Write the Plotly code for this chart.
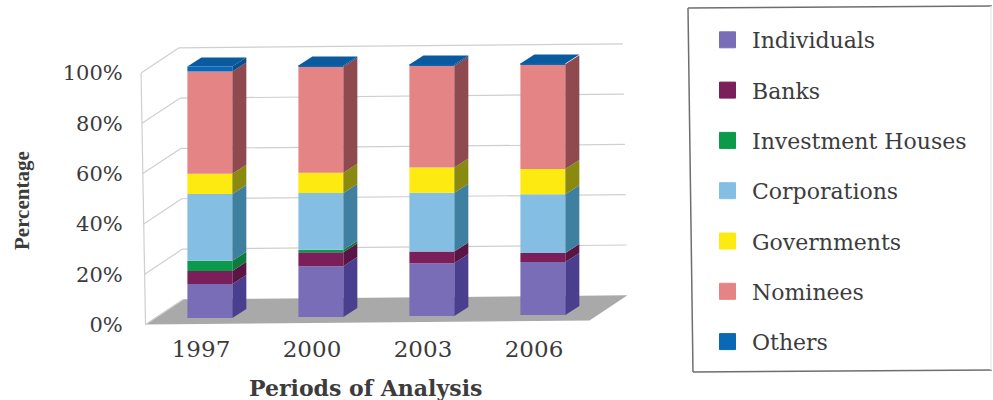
import plotly.graph_objects as go

# Ownership shares by year, in percent
years = ["1997", "2000", "2003", "2006"]
individuals = [13.5, 20.2, 21.0, 21.0]
banks = [5.2, 5.5, 4.6, 3.6]
investment_houses = [4.0, 1.0, 0.0, 0.0]
corporations = [26.6, 22.6, 23.4, 23.4]
governments = [8.0, 8.0, 10.0, 10.0]
nominees = [40.7, 42.2, 40.5, 41.7]
others = [2.0, 0.5, 0.5, 0.3]

series_names = ["Individuals", "Banks", "Investment Houses", "Corporations",
                "Governments", "Nominees", "Others"]
series_values = [individuals, banks, investment_houses, corporations,
                 governments, nominees, others]
front_colors = ["#7A6DB8", "#7B1F5B", "#0A9A4A", "#84BFE3", "#FDEA10", "#E58484", "#0A68B5"]
side_colors = ["#4A3F8F", "#5A1545", "#0E7A3C", "#3F7FA0", "#8A8A10", "#8F4A50", "#0A4F8C"]
top_color = "#0A5AA0"

FONT = "DejaVu Serif"
TITLE_FONT = "Liberation Serif"
TEXT = "#3C3C3C"

# Plot frame in pixels and the resulting axis ranges
W, H = 993, 400
LEFT, RIGHT, TOP, BOTTOM = 134, 640, 30, 326
X_RANGE = [-0.6036, 3.955]
Y_RANGE = [-0.6, 117.1]

# Oblique projection constants, in axis units
TILT = 0.4          # percent of rise per category step
WALL_DX, WALL_DY = 0.342, 10.0
WALL_LEAN = 0.04    # leftward lean of the walls at 100%
BAR_OFFSET = 0.08
BAR_WIDTH = 0.405
BAR_FLOOR = 2.6
BAR_DX, BAR_DY = 0.126, 3.6


def wall(x, depth, pct):
    """Point on the floor/wall box at slot position x, depth 0..1, height pct."""
    return (x + depth * WALL_DX - WALL_LEAN * pct / 100,
            pct + TILT * (x + 0.5) + depth * WALL_DY)


def line_shape(p, q, color="#CFCFCF"):
    return dict(type="line", xref="x", yref="y", layer="below",
                x0=p[0], y0=p[1], x1=q[0], y1=q[1],
                line=dict(color=color, width=1.2))


shapes = []
# Floor slab
corners = [wall(-0.5, 0, 0), wall(3.5, 0, 0), wall(3.5, 1, 0), wall(-0.5, 1, 0)]
path = "M " + " L ".join(f"{x},{y}" for x, y in corners) + " Z"
shapes.append(dict(type="path", xref="x", yref="y", layer="below", path=path,
                   fillcolor="#A9A9A9", line=dict(width=0)))
# Gridlines: side wall diagonals and back wall horizontals
for pct in [0, 20, 40, 60, 80, 100]:
    shapes.append(line_shape(wall(-0.5, 0, pct), wall(-0.5, 1, pct)))
    if pct > 0:
        shapes.append(line_shape(wall(-0.5, 1, pct), wall(3.5, 1, pct)))
shapes.append(line_shape(wall(-0.5, 0, 0), wall(-0.5, 0, 100)))


def px(x):
    return (x - LEFT) / (RIGHT - LEFT)


def py(y):
    return (BOTTOM - y) / (BOTTOM - TOP)


# Legend frame: three firm edges and a faint right edge
frame_edges = [((688, 8), (992, 6), "#6E6E6E"), ((688, 8), (693, 372), "#6E6E6E"),
               ((693, 372), (992, 370), "#6E6E6E"), ((991, 6), (991, 370), "#EDEDED")]
for (x0, y0), (x1, y1), edge in frame_edges:
    shapes.append(dict(type="line", xref="paper", yref="paper",
                       x0=px(x0), y0=py(y0), x1=px(x1), y1=py(y1),
                       line=dict(color=edge, width=1.5)))

fig = go.Figure()

# Stack bases per year
bar_x = [i + BAR_OFFSET for i in range(len(years))]
bases = [BAR_FLOOR + TILT * i for i in range(len(years))]
stack = [list(bases)]
for values in series_values:
    stack.append([b + v for b, v in zip(stack[-1], values)])

for k, name in enumerate(series_names):
    # Front faces
    fig.add_trace(go.Bar(x=bar_x, y=series_values[k], base=stack[k], width=BAR_WIDTH,
                         marker=dict(color=front_colors[k], line=dict(width=0)),
                         name=name, showlegend=False, hoverinfo="skip"))
    # Right-hand faces of the same segments
    sx, sy = [], []
    for i, cx in enumerate(bar_x):
        y0, y1 = stack[k][i], stack[k + 1][i]
        if y1 <= y0:
            continue
        xr = cx + BAR_WIDTH / 2
        sx += [xr, xr + BAR_DX, xr + BAR_DX, xr, xr, None]
        sy += [y0, y0 + BAR_DY, y1 + BAR_DY, y1, y0, None]
    fig.add_trace(go.Scatter(x=sx, y=sy, mode="lines", fill="toself",
                             fillcolor=side_colors[k], line=dict(width=0),
                             showlegend=False, hoverinfo="skip"))

# Top faces of the stacks
tx, ty = [], []
for i, cx in enumerate(bar_x):
    t = stack[-1][i]
    xl, xr = cx - BAR_WIDTH / 2, cx + BAR_WIDTH / 2
    tx += [xl, xr, xr + BAR_DX, xl + BAR_DX, xl, None]
    ty += [t, t, t + BAR_DY, t + BAR_DY, t, None]
fig.add_trace(go.Scatter(x=tx, y=ty, mode="lines", fill="toself", fillcolor=top_color,
                         line=dict(width=0), showlegend=False, hoverinfo="skip"))

# Legend entries, one group per series for even spacing
for name, color in zip(series_names, front_colors):
    fig.add_trace(go.Scatter(x=[None], y=[None], mode="markers", name=name, legendgroup=name,
                             marker=dict(symbol="square", size=16, color=color,
                                         line=dict(width=1, color=color))))

annotations = [
    dict(text="<b>Periods of Analysis</b>", xref="paper", yref="paper",
         x=px(365), y=py(388), xanchor="center", yanchor="middle", showarrow=False,
         font=dict(size=22, family=FONT, color=TEXT)),
    dict(text="<b>Percentage</b>", xref="paper", yref="paper",
         x=px(22), y=py(201), xanchor="center", yanchor="middle", showarrow=False,
         textangle=-90, font=dict(size=21, family=TITLE_FONT, color=TEXT)),
]

fig.update_layout(
    width=W, height=H, margin=dict(l=LEFT, r=W - RIGHT, t=TOP, b=H - BOTTOM),
    autosize=False, barmode="overlay",
    paper_bgcolor="white", plot_bgcolor="rgba(0,0,0,0)",
    font=dict(family=FONT, color=TEXT),
    shapes=shapes, annotations=annotations,
    xaxis=dict(range=X_RANGE, tickmode="array", tickvals=list(range(4)), ticktext=years,
               showgrid=False, zeroline=False, showline=False, automargin=False,
               ticks="outside", ticklen=2, tickcolor="rgba(0,0,0,0)",
               tickfont=dict(size=23, family=FONT, color=TEXT)),
    yaxis=dict(range=Y_RANGE, tickmode="array", tickvals=[0, 20, 40, 60, 80, 100],
               ticktext=["0%", "20%", "40%", "60%", "80%", "100%"],
               showgrid=False, zeroline=False, showline=False, automargin=False,
               ticks="outside", ticklen=6, tickcolor="rgba(0,0,0,0)",
               tickfont=dict(size=21, family=FONT, color=TEXT)),
    legend=dict(x=px(703), y=py(19), xanchor="left", yanchor="top",
                bgcolor="rgba(0,0,0,0)", borderwidth=0, traceorder="grouped",
                tracegroupgap=18.7, itemsizing="trace", maxheight=380, itemwidth=39,
                font=dict(size=22, family=FONT, color=TEXT)),
)

fig.write_html("out.html")
